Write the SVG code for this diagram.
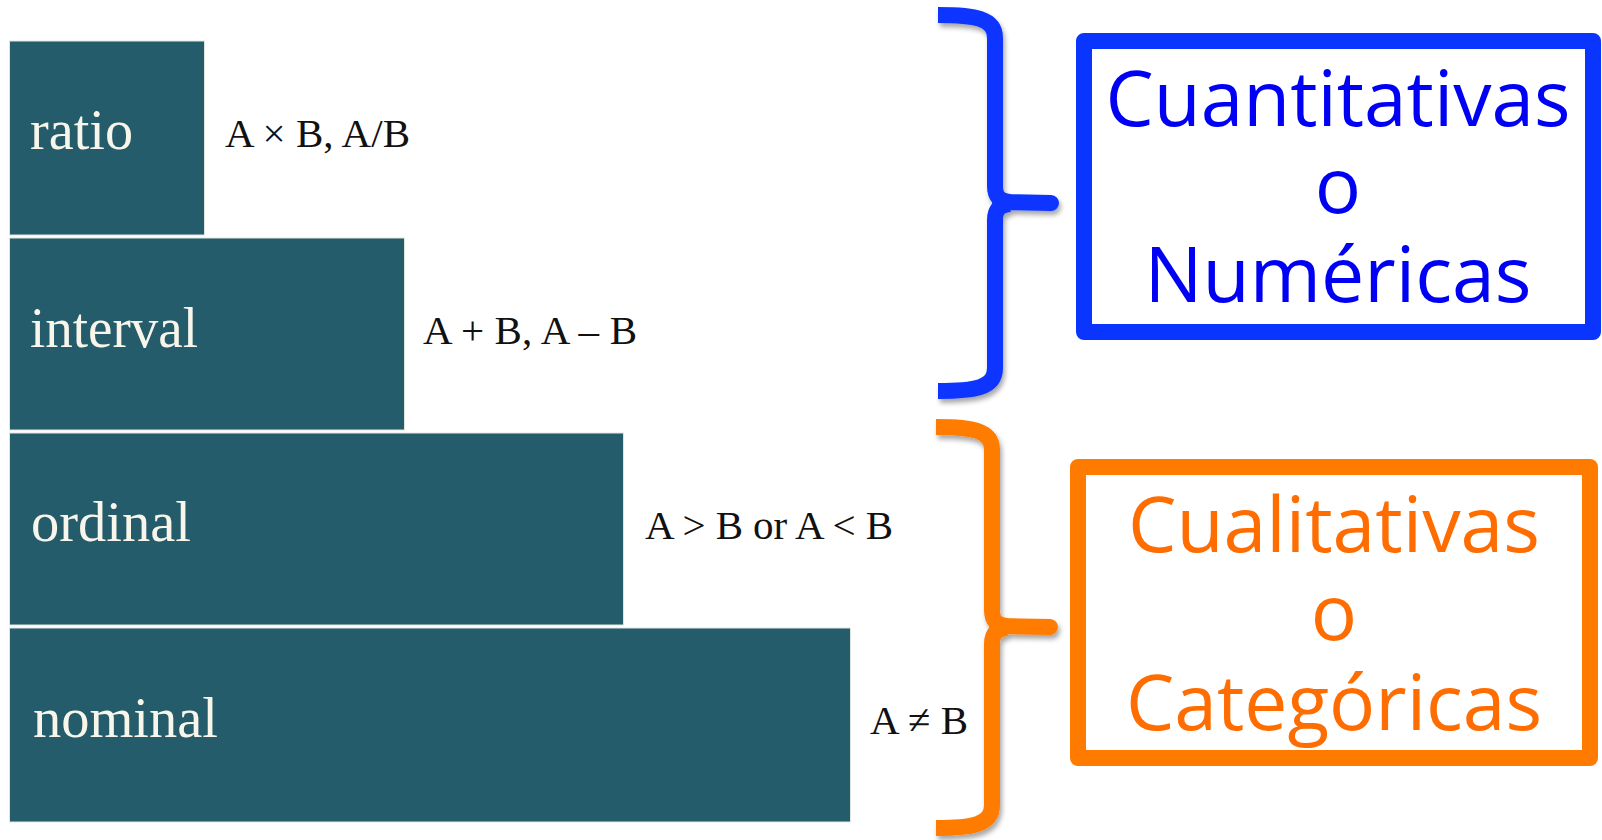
<svg xmlns="http://www.w3.org/2000/svg" width="1602" height="840" viewBox="0 0 1602 840">
  <defs>
    <filter id="shadow" x="-20%" y="-10%" width="150%" height="130%">
      <feDropShadow dx="2" dy="4" stdDeviation="2.5" flood-color="#000" flood-opacity="0.35"/>
    </filter>
    <style>
      .bar { fill: #255C6B; stroke: #dfe6de; stroke-width: 1; }
      .lvl { font-family: "Liberation Serif", "Times New Roman", serif; font-size: 56px; fill: #F8F6EA; }
      .op { font-family: "Liberation Serif", "Times New Roman", serif; font-size: 41px; fill: #111; }
      .brace { fill: none; stroke-width: 16; stroke-linecap: butt; stroke-linejoin: round; }
      .nib { fill: none; stroke-width: 16; stroke-linecap: round; }
      .box { fill: #fff; stroke-width: 16; stroke-linejoin: round; }
      .big { font-family: "Open Sans", "DejaVu Sans", sans-serif; font-size: 77px; text-anchor: middle; }
    </style>
  </defs>
  <rect width="1602" height="840" fill="#fff"/>

  <g id="ratio">
    <rect class="bar" x="9.5" y="41" width="195" height="194"/>
    <text class="lvl" x="30" y="149" textLength="103" lengthAdjust="spacingAndGlyphs">ratio</text>
    <text class="op" x="225" y="147" textLength="185" lengthAdjust="spacing">A × B, A/B</text>
  </g>
  <g id="interval">
    <rect class="bar" x="9.5" y="238" width="395" height="192"/>
    <text class="lvl" x="30" y="347" textLength="168" lengthAdjust="spacingAndGlyphs">interval</text>
    <text class="op" x="423" y="344" textLength="214" lengthAdjust="spacing">A + B, A – B</text>
  </g>
  <g id="ordinal">
    <rect class="bar" x="9.5" y="433" width="614" height="192"/>
    <text class="lvl" x="31" y="541" textLength="160" lengthAdjust="spacingAndGlyphs">ordinal</text>
    <text class="op" x="645" y="539" textLength="248" lengthAdjust="spacing">A &gt; B or A &lt; B</text>
  </g>
  <g id="nominal">
    <rect class="bar" x="9.5" y="628" width="841" height="194"/>
    <text class="lvl" x="33" y="737" textLength="185" lengthAdjust="spacingAndGlyphs">nominal</text>
    <text class="op" x="870" y="734" textLength="98" lengthAdjust="spacing">A ≠ B</text>
  </g>

  <g id="connectors">
    <g filter="url(#shadow)" stroke="#0A35FF">
      <path class="brace" d="M938 15 C975 15 995 18 995 38 L995 186 C995 197 1000 201 1010 202"/>
      <path class="nib" d="M1000 202 L1051 203"/>
      <path class="brace" d="M1010 204 C1000 205 995 209 995 220 L995 368 C995 388 975 391 938 391"/>
    </g>
    <g filter="url(#shadow)" stroke="#FF7B00">
      <path class="brace" d="M936 427 C972 427 992 430 992 450 L992 610 C992 621 997 625 1007 626"/>
      <path class="nib" d="M997 626 L1050 627"/>
      <path class="brace" d="M1007 628 C997 629 992 633 992 644 L992 805 C992 825 972 828 936 828"/>
    </g>
  </g>

  <g id="cuantitativas">
    <rect class="box" x="1084" y="41" width="509" height="291" stroke="#0A35FF"/>
    <text class="big" fill="#0000F5" x="1338" y="126" textLength="465" lengthAdjust="spacingAndGlyphs">Cuantitativas</text>
    <text class="big" fill="#0000F5" x="1338" y="213">o</text>
    <text class="big" fill="#0000F5" x="1338" y="302">Numéricas</text>
  </g>
  <g id="cualitativas">
    <rect class="box" x="1078" y="467" width="512" height="291" stroke="#FF7B00"/>
    <text class="big" fill="#FF6C00" x="1334" y="552" textLength="412" lengthAdjust="spacingAndGlyphs">Cualitativas</text>
    <text class="big" fill="#FF6C00" x="1334" y="640">o</text>
    <text class="big" fill="#FF6C00" x="1334" y="730" textLength="416" lengthAdjust="spacingAndGlyphs">Categóricas</text>
  </g>
</svg>
